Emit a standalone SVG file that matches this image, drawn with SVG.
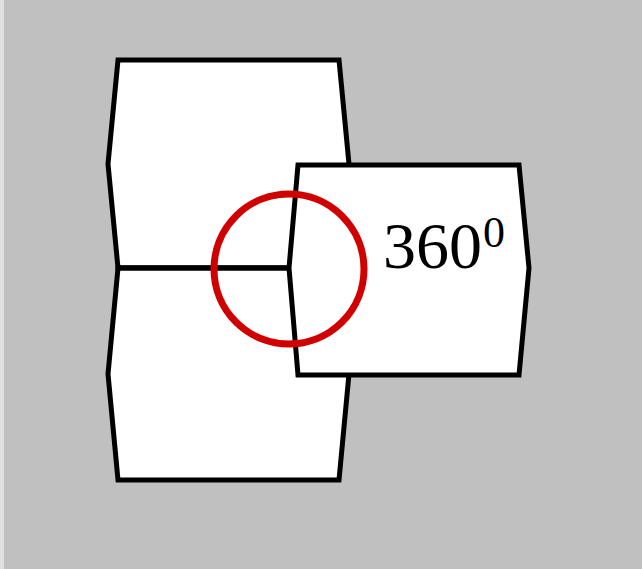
<svg xmlns="http://www.w3.org/2000/svg" width="642" height="569" viewBox="0 0 642 569">
<style>
.tile{fill:#ffffff;stroke:#000000;stroke-width:5;stroke-linejoin:miter}
.lbl{font-family:"Liberation Serif","Times New Roman",serif;fill:#000000}
</style>
<rect x="0" y="0" width="642" height="569" fill="#c0c0c0"/>
<rect x="0" y="0" width="4" height="569" fill="#e0e0e0"/>
<g id="tile-top"><polygon class="tile" points="118,60 339,60 349,164 339,268 118,268 108,164"/></g>
<g id="tile-bottom"><polygon class="tile" points="118,268 339,268 349,374 339,480 118,480 108,374"/></g>
<g id="tile-right"><polygon class="tile" points="298,165 519,165 529,268 519,375 298,375 289,268"/></g>
<g id="connectors"><line x1="118" y1="268" x2="289" y2="268" stroke="#000" stroke-width="5"/></g>
<g id="angle"><circle cx="289" cy="269" r="75" fill="none" stroke="#d00000" stroke-width="7"/></g>
<g id="label"><text class="lbl" x="383" y="268" font-size="66">360</text><text class="lbl" x="483" y="247" font-size="44">0</text></g>
</svg>
